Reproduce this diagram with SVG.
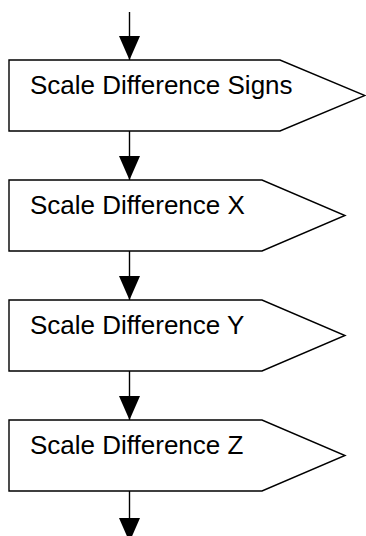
<svg xmlns="http://www.w3.org/2000/svg" width="366" height="536" viewBox="0 0 366 536">
<style>
.box{fill:#fff;stroke:#000;stroke-width:1.4}
.lbl{font-family:"Liberation Sans",Arial,sans-serif;font-size:26px;fill:#000}
.con{stroke:#000;stroke-width:1.4;fill:none}
</style>
<defs>
<marker id="ah" markerUnits="userSpaceOnUse" viewBox="0 0 24 21" markerWidth="24" markerHeight="21" refX="24" refY="10.5" orient="auto">
<path d="M0,0 L24,10.5 L0,21 Z" fill="#000"/>
</marker>
</defs>
<rect width="366" height="536" fill="#fff"/>
<g id="connectors">
<line class="con" x1="129.5" y1="12" x2="129.5" y2="60" marker-end="url(#ah)"/>
<line class="con" x1="129.5" y1="131" x2="129.5" y2="180" marker-end="url(#ah)"/>
<line class="con" x1="129.5" y1="251" x2="129.5" y2="300" marker-end="url(#ah)"/>
<line class="con" x1="129.5" y1="371" x2="129.5" y2="420" marker-end="url(#ah)"/>
<line class="con" x1="129.5" y1="491" x2="129.5" y2="542" marker-end="url(#ah)"/>
</g>
<g id="node1">
<polygon class="box" points="9,60 280,60 365,95.5 280,131 9,131"/>
<text class="lbl" x="30" y="94">Scale Difference Signs</text>
</g>
<g id="node2">
<polygon class="box" points="9,180 262,180 345,215.5 262,251 9,251"/>
<text class="lbl" x="30" y="214">Scale Difference X</text>
</g>
<g id="node3">
<polygon class="box" points="9,300 262,300 345,335.5 262,371 9,371"/>
<text class="lbl" x="30" y="334">Scale Difference Y</text>
</g>
<g id="node4">
<polygon class="box" points="9,420 262,420 345,455.5 262,491 9,491"/>
<text class="lbl" x="30" y="454">Scale Difference Z</text>
</g>
</svg>
